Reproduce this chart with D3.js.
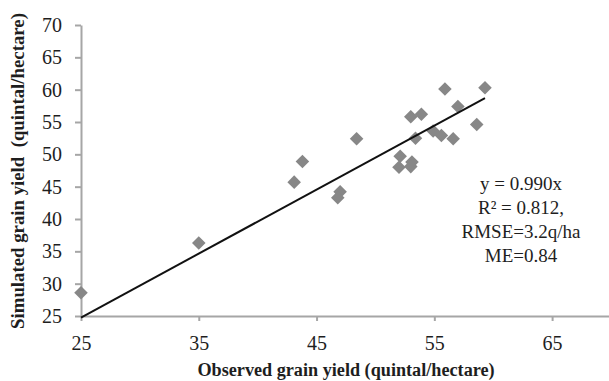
<!DOCTYPE html>
<html lang="en">
<head>
<meta charset="UTF-8" />
<title>Observed vs simulated grain yield</title>
<style>
  body { margin: 0; background: #fff; }
  svg text { font-family: "Liberation Serif", "Times New Roman", serif; fill: #1e1e1e; }
  .axis path, .axis line { stroke: #a6a6a6; stroke-width: 2; }
  .axis text { font-size: 20px; }
  .title { font-weight: bold; }
  .note { font-size: 19px; }
</style>
</head>
<body>
<script src="https://cdn.jsdelivr.net/npm/d3@7/dist/d3.min.js"></script>
<script>

// observed vs simulated (quintal/hectare)
var observed  = [25.0, 35.0, 55.9, 59.3, 57.0, 58.6, 53.0, 53.9, 53.4, 54.9, 55.6, 56.6, 48.4, 43.8, 43.1, 47.0, 46.8, 52.1, 52.0, 53.1, 53.0];
var simulated = [28.6, 36.3, 60.1, 60.3, 57.4, 54.6, 55.8, 56.2, 52.5, 53.6, 52.9, 52.4, 52.4, 48.9, 45.7, 44.2, 43.3, 49.7, 48.0, 48.8, 48.1];

var xTicks = [25, 35, 45, 55, 65];
var yTicks = [25, 30, 35, 40, 45, 50, 55, 60, 65, 70];
var slope = 0.990;
var noteLines = ["y = 0.990x", "R\u00b2 = 0.812,", "RMSE=3.2q/ha", "ME=0.84"];

var w = 609, h = 381;
var margin = { top: 25, right: -2, bottom: 65, left: 81 };

var svg = d3.select("body").append("svg")
  .attr("width", w)
  .attr("height", h);

var xScale = d3.scaleLinear()
  .domain([25, 70])
  .range([margin.left, w - margin.right]);

var yScale = d3.scaleLinear()
  .domain([25, 70])
  .range([h - margin.bottom, margin.top]);

var xAxis = d3.axisBottom(xScale)
  .tickValues(xTicks)
  .tickSize(5)
  .tickSizeOuter(0)
  .tickPadding(15);

var yAxis = d3.axisLeft(yScale)
  .tickValues(yTicks)
  .tickSize(6)
  .tickSizeOuter(0)
  .tickPadding(13);

svg.append("g")
  .attr("class", "axis")
  .attr("transform", "translate(0," + yScale(25) + ")")
  .call(xAxis);

svg.append("g")
  .attr("class", "axis")
  .attr("transform", "translate(" + xScale(25) + ",0)")
  .call(yAxis);

// points as rotated squares
var diamond = d3.symbol().type(d3.symbolSquare).size(92);

svg.append("g")
  .selectAll("path")
  .data(observed)
  .join("path")
  .attr("d", diamond)
  .attr("fill", "#878787")
  .attr("transform", function(d, i) {
    return "translate(" + xScale(d) + "," + yScale(simulated[i]) + ") rotate(45)";
  });

// fitted line y = 0.990x
var xMin = d3.min(observed), xMax = d3.max(observed);
svg.append("line")
  .attr("x1", xScale(xMin))
  .attr("y1", yScale(slope * xMin))
  .attr("x2", xScale(xMax))
  .attr("y2", yScale(slope * xMax))
  .attr("stroke", "#111")
  .attr("stroke-width", 2);

// equation text
svg.append("g")
  .selectAll("text")
  .data(noteLines)
  .join("text")
  .attr("class", "note")
  .attr("x", 521)
  .attr("y", function(d, i) { return 190 + i * 24; })
  .attr("text-anchor", "middle")
  .text(function(d) { return d; });

// axis titles
svg.append("text")
  .attr("class", "title")
  .attr("x", 346)
  .attr("y", 376)
  .attr("text-anchor", "middle")
  .style("font-size", "18.2px")
  .text("Observed grain yield (quintal/hectare)");

svg.append("text")
  .attr("class", "title")
  .attr("transform", "translate(24,171) rotate(-90)")
  .attr("text-anchor", "middle")
  .attr("xml:space", "preserve")
  .style("white-space", "pre")
  .style("font-size", "18.8px")
  .text("Simulated grain yield  (quintal/hectare)");

</script>
</body>
</html>
